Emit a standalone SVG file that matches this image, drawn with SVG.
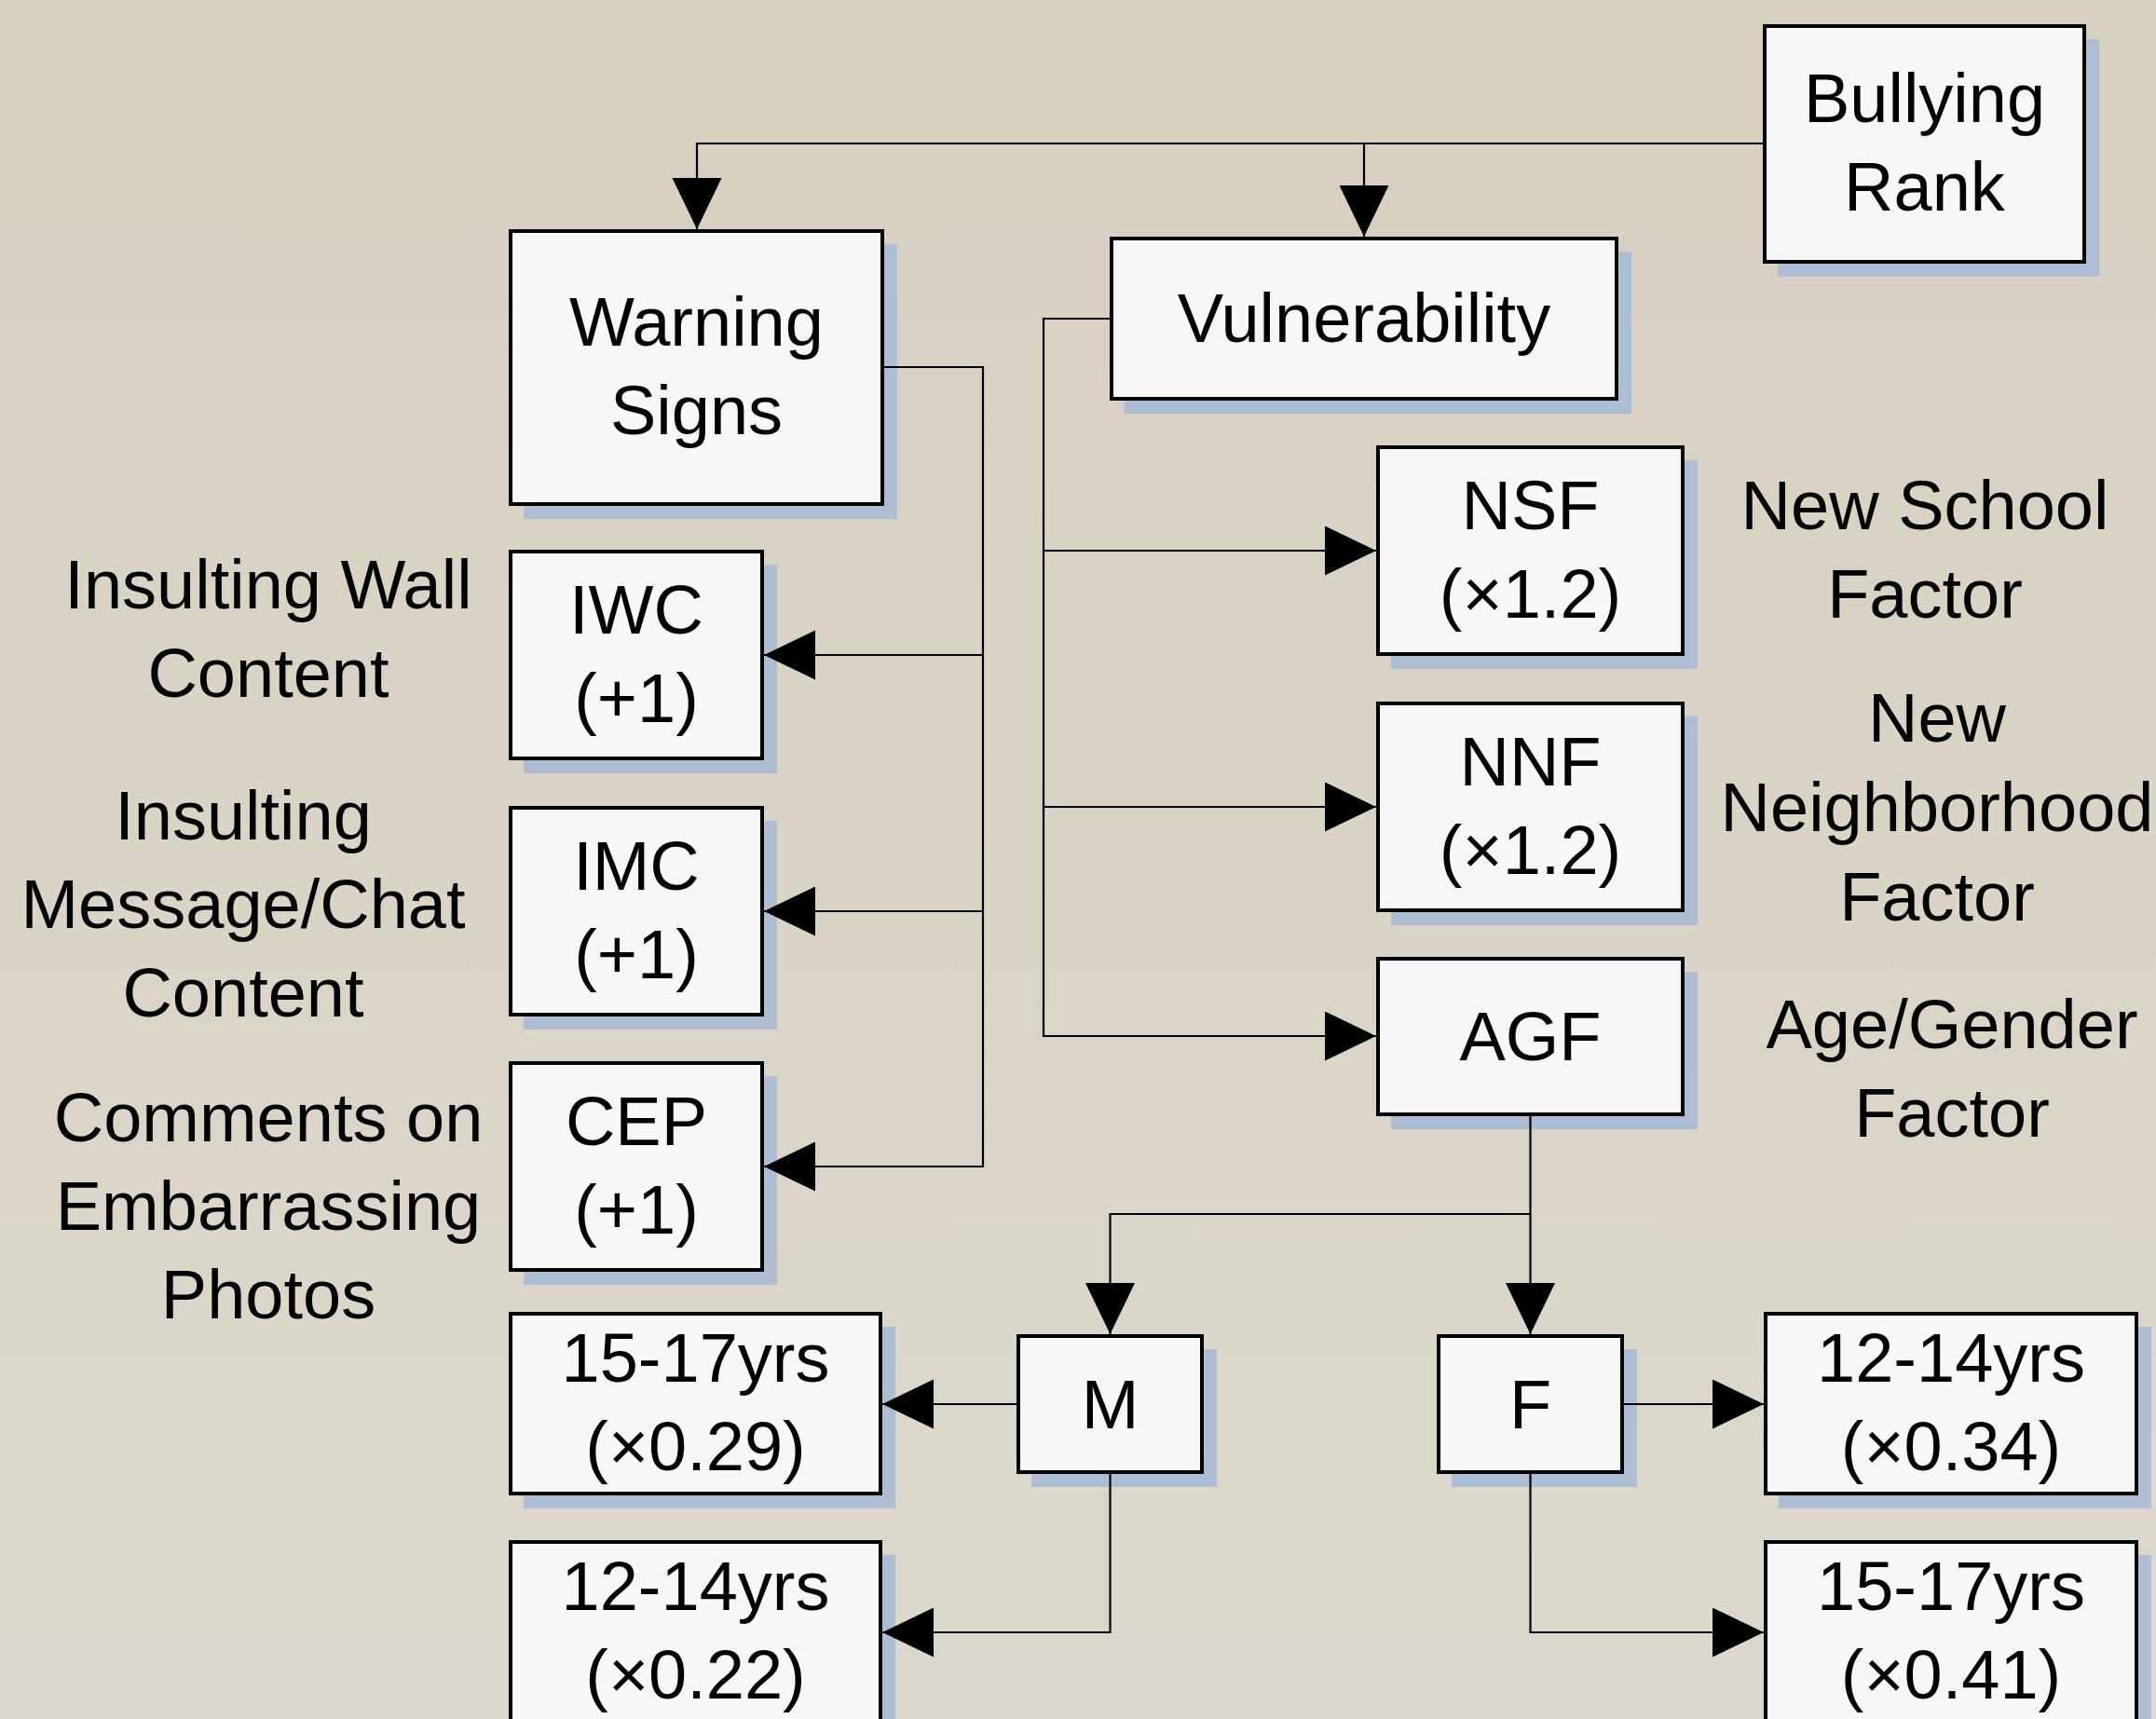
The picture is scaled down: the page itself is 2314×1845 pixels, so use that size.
<svg xmlns="http://www.w3.org/2000/svg" width="2314" height="1845" viewBox="0 0 2314 1845">
<defs>
<linearGradient id="bg" x1="0" y1="0" x2="0" y2="1">
<stop offset="0" stop-color="#D7D0C1"/>
<stop offset="1" stop-color="#DDD8CD"/>
</linearGradient>
<marker id="arr" markerUnits="userSpaceOnUse" markerWidth="56" markerHeight="54" refX="55" refY="26.5" orient="auto">
<path d="M0,0 L55,26.5 L0,53 Z" fill="#000"/>
</marker>
</defs>
<style>
.shadow{fill:#ADBED4}
.box{fill:#F7F7F7;stroke:#000;stroke-width:4}
.t{font-family:"Liberation Sans",Arial,sans-serif;font-size:74px;fill:#000;text-anchor:middle}
.c{fill:none;stroke:#000;stroke-width:2.2}
</style>
<rect x="0" y="0" width="2314" height="1845" fill="url(#bg)"/>

<g id="bullying-rank">
<rect class="shadow" x="1908" y="42" width="345" height="255"/>
<rect class="box" x="1894" y="28" width="343" height="253"/>
<text class="t" x="2065.5" y="131">Bullying</text>
<text class="t" x="2065.5" y="226">Rank</text>
</g>

<g id="warning-signs">
<rect class="shadow" x="562" y="262" width="401" height="295"/>
<rect class="box" x="548" y="248" width="399" height="293"/>
<text class="t" x="747.5" y="371">Warning</text>
<text class="t" x="747.5" y="466">Signs</text>
</g>

<g id="vulnerability">
<rect class="shadow" x="1207" y="270" width="544" height="174"/>
<rect class="box" x="1193" y="256" width="542" height="172"/>
<text class="t" x="1464" y="367">Vulnerability</text>
</g>

<g id="nsf">
<rect class="shadow" x="1493" y="494" width="329" height="224"/>
<rect class="box" x="1479" y="480" width="327" height="222"/>
<text class="t" x="1642.5" y="568">NSF</text>
<text class="t" x="1642.5" y="663">(×1.2)</text>
</g>

<g id="nnf">
<rect class="shadow" x="1493" y="769" width="329" height="224"/>
<rect class="box" x="1479" y="755" width="327" height="222"/>
<text class="t" x="1642.5" y="843">NNF</text>
<text class="t" x="1642.5" y="938">(×1.2)</text>
</g>

<g id="agf">
<rect class="shadow" x="1493" y="1043" width="329" height="169"/>
<rect class="box" x="1479" y="1029" width="327" height="167"/>
<text class="t" x="1642.5" y="1138">AGF</text>
</g>

<g id="iwc">
<rect class="shadow" x="562" y="606" width="272" height="224"/>
<rect class="box" x="548" y="592" width="270" height="222"/>
<text class="t" x="683" y="680">IWC</text>
<text class="t" x="683" y="775">(+1)</text>
</g>

<g id="imc">
<rect class="shadow" x="562" y="881" width="272" height="224"/>
<rect class="box" x="548" y="867" width="270" height="222"/>
<text class="t" x="683" y="955">IMC</text>
<text class="t" x="683" y="1050">(+1)</text>
</g>

<g id="cep">
<rect class="shadow" x="562" y="1155" width="272" height="224"/>
<rect class="box" x="548" y="1141" width="270" height="222"/>
<text class="t" x="683" y="1229">CEP</text>
<text class="t" x="683" y="1324">(+1)</text>
</g>

<g id="m-15-17">
<rect class="shadow" x="562" y="1424" width="399" height="195"/>
<rect class="box" x="548" y="1410" width="397" height="193"/>
<text class="t" x="746.5" y="1483">15-17yrs</text>
<text class="t" x="746.5" y="1578">(×0.29)</text>
</g>

<g id="m-12-14">
<rect class="shadow" x="562" y="1669" width="399" height="195"/>
<rect class="box" x="548" y="1655" width="397" height="193"/>
<text class="t" x="746.5" y="1728">12-14yrs</text>
<text class="t" x="746.5" y="1823">(×0.22)</text>
</g>

<g id="m">
<rect class="shadow" x="1107" y="1448" width="199" height="148"/>
<rect class="box" x="1093" y="1434" width="197" height="146"/>
<text class="t" x="1191.5" y="1533">M</text>
</g>

<g id="f">
<rect class="shadow" x="1558" y="1448" width="199" height="148"/>
<rect class="box" x="1544" y="1434" width="197" height="146"/>
<text class="t" x="1642.5" y="1533">F</text>
</g>

<g id="f-12-14">
<rect class="shadow" x="1909" y="1424" width="400" height="195"/>
<rect class="box" x="1895" y="1410" width="398" height="193"/>
<text class="t" x="2094" y="1483">12-14yrs</text>
<text class="t" x="2094" y="1578">(×0.34)</text>
</g>

<g id="f-15-17">
<rect class="shadow" x="1909" y="1669" width="400" height="195"/>
<rect class="box" x="1895" y="1655" width="398" height="193"/>
<text class="t" x="2094" y="1728">15-17yrs</text>
<text class="t" x="2094" y="1823">(×0.41)</text>
</g>

<g id="labels">
<text class="t" x="288" y="653">Insulting Wall</text>
<text class="t" x="288" y="748">Content</text>
<text class="t" x="261" y="901">Insulting</text>
<text class="t" x="261" y="996">Message/Chat</text>
<text class="t" x="261" y="1091">Content</text>
<text class="t" x="288" y="1225">Comments on</text>
<text class="t" x="288" y="1320">Embarrassing</text>
<text class="t" x="288" y="1415">Photos</text>
<text class="t" x="2066" y="568">New School</text>
<text class="t" x="2066" y="663">Factor</text>
<text class="t" x="2079" y="796">New</text>
<text class="t" x="2079" y="892">Neighborhood</text>
<text class="t" x="2079" y="988">Factor</text>
<text class="t" x="2095" y="1125">Age/Gender</text>
<text class="t" x="2095" y="1220">Factor</text>
</g>

<g id="connectors">
<path class="c" d="M1892,154 H748 V246" marker-end="url(#arr)"/>
<path class="c" d="M1464,154 V254" marker-end="url(#arr)"/>
<path class="c" d="M949,394 H1055 V1252 H820" marker-end="url(#arr)"/>
<path class="c" d="M1055,703 H820" marker-end="url(#arr)"/>
<path class="c" d="M1055,978 H820" marker-end="url(#arr)"/>
<path class="c" d="M1191,342 H1120 V1112 H1477" marker-end="url(#arr)"/>
<path class="c" d="M1120,591 H1477" marker-end="url(#arr)"/>
<path class="c" d="M1120,866 H1477" marker-end="url(#arr)"/>
<path class="c" d="M1642.5,1198 V1303 H1191.5 V1432" marker-end="url(#arr)"/>
<path class="c" d="M1642.5,1303 V1432" marker-end="url(#arr)"/>
<path class="c" d="M1091,1507 H947" marker-end="url(#arr)"/>
<path class="c" d="M1191.5,1582 V1752 H947" marker-end="url(#arr)"/>
<path class="c" d="M1743,1507 H1893" marker-end="url(#arr)"/>
<path class="c" d="M1642.5,1582 V1752 H1893" marker-end="url(#arr)"/>
</g>
</svg>
